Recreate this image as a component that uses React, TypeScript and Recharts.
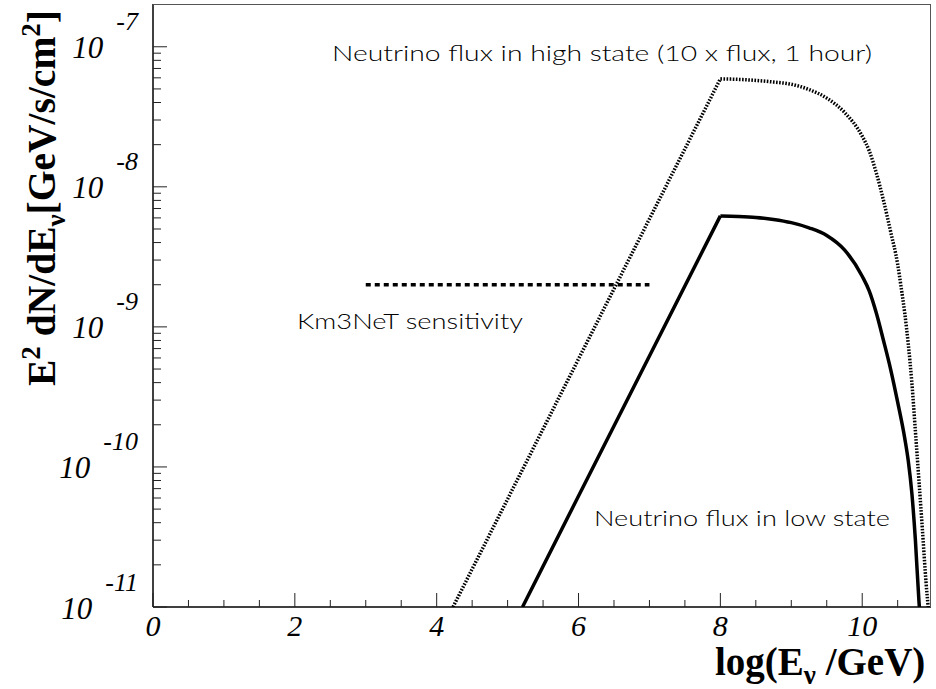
import React from 'react';
import { LineChart, Line, XAxis, YAxis } from 'recharts';

// ---- data ----
// low state: rising power law, then plateau with cutoff
const lowRiseX = [5.21, 6, 7, 8];
const lowRiseFlux = [1.0e-11, 6.2e-11, 6.2e-10, 6.2e-9];
const lowCutoffX = [8, 8.25, 8.5, 8.75, 9, 9.25, 9.5, 9.75, 10, 10.1, 10.2, 10.3, 10.4, 10.5, 10.6, 10.65, 10.7, 10.75, 10.8, 10.82];
const lowCutoffFlux = [6.2e-9, 6.15e-9, 6.05e-9, 5.85e-9, 5.55e-9, 5.1e-9, 4.5e-9, 3.55e-9, 2.3e-9, 1.8e-9, 1.25e-9, 8.0e-10, 5.0e-10, 2.9e-10, 1.6e-10, 1.1e-10, 6.5e-11, 3.0e-11, 1.1e-11, 8.0e-12];

// high state (10 x flux)
const highRiseX = [4.23, 5, 6, 7, 8];
const highRiseFlux = [1.0e-11, 5.9e-11, 5.9e-10, 5.9e-9, 5.9e-8];
const highCutoffX = [8, 8.25, 8.5, 8.75, 9, 9.25, 9.5, 9.75, 10, 10.1, 10.2, 10.3, 10.4, 10.5, 10.55, 10.6, 10.65, 10.7, 10.75, 10.8, 10.85, 10.9, 10.93, 10.95];
const highCutoffFlux = [5.9e-8, 5.85e-8, 5.75e-8, 5.6e-8, 5.4e-8, 4.95e-8, 4.3e-8, 3.4e-8, 2.3e-8, 1.8e-8, 1.25e-8, 8.0e-9, 4.8e-9, 2.8e-9, 1.9e-9, 1.25e-9, 7.5e-10, 4.0e-10, 1.8e-10, 8.0e-11, 3.5e-11, 1.5e-11, 1.0e-11, 7.5e-12];

const km3netX = [3, 7];
const km3netFlux = [2.0e-9, 2.0e-9];

const xTicks = [0, 0.5, 1, 1.5, 2, 2.5, 3, 3.5, 4, 4.5, 5, 5.5, 6, 6.5, 7, 7.5, 8, 8.5, 9, 9.5, 10, 10.5];
const xMajorTicks = [0, 2, 4, 6, 8, 10];
const xTickLabels = ['0', '2', '4', '6', '8', '10'];
const yDecades = [1e-11, 1e-10, 1e-9, 1e-8, 1e-7];
const yExponentLabels = ['-11', '-10', '-9', '-8', '-7'];
const yMinorMultipliers = [2, 3, 4, 5, 6, 7, 8, 9];

const toPoints = (xs: number[], ys: number[]) => xs.map((x, i) => ({ x, y: ys[i] }));
const lowRise = toPoints(lowRiseX, lowRiseFlux);
const lowCut = toPoints(lowCutoffX, lowCutoffFlux);
const highRise = toPoints(highRiseX, highRiseFlux);
const highCut = toPoints(highCutoffX, highCutoffFlux);
const km3Data = toPoints(km3netX, km3netFlux);

const yTicks: number[] = [];
yDecades.forEach((d, i) => {
  yTicks.push(d);
  if (i < yDecades.length - 1) yMinorMultipliers.forEach((m) => yTicks.push(m * d));
});

const W = 936;
const H = 689;
const serif = '"Liberation Serif", "Times New Roman", serif';
const sans = 'Lato, "DejaVu Sans", sans-serif';

const YTick = (props: any) => {
  const { x, y, payload } = props;
  const v = payload.value;
  const idx = yDecades.findIndex((d) => Math.abs(d - v) / d < 1e-6);
  if (idx < 0) {
    return <line x1={x} x2={x + 8} y1={y} y2={y} stroke="#222" strokeWidth={1} />;
  }
  return (
    <g>
      <line x1={x} x2={x + 14} y1={y} y2={y} stroke="#222" strokeWidth={1} />
      <text x={x - 15} y={y + 11.5} textAnchor="end" fontFamily={serif} fontStyle="italic" fontSize={31} fill="#000">
        10
        <tspan dx={13} dy={-28} fontSize={26}>{yExponentLabels[idx]}</tspan>
      </text>
    </g>
  );
};

const XTick = (props: any) => {
  const { x, y, payload } = props;
  const v = payload.value;
  const idx = xMajorTicks.indexOf(v);
  if (idx < 0) {
    return <line x1={x} x2={x} y1={y} y2={y - 7} stroke="#222" strokeWidth={1} />;
  }
  return (
    <g>
      <line x1={x} x2={x} y1={y} y2={y - 14} stroke="#222" strokeWidth={1} />
      <text x={x} y={y + 29} textAnchor="middle" fontFamily={serif} fontStyle="italic" fontSize={30} fill="#000">
        {xTickLabels[idx]}
      </text>
    </g>
  );
};

const common = { dataKey: 'y', stroke: '#000', dot: false, isAnimationActive: false } as const;

export default function App() {
  return (
    <div style={{ position: 'absolute', left: 0, top: 0, width: W, height: H, background: '#fff' }}>
      <LineChart width={W} height={H} margin={{ top: 4, right: 5, left: 0, bottom: 0 }}>
        <XAxis
          dataKey="x"
          type="number"
          domain={[0, 10.97]}
          allowDataOverflow
          ticks={xTicks}
          interval={0}
          height={82}
          tickSize={0}
          tickMargin={0}
          tickLine={false}
          axisLine={{ stroke: '#000', strokeWidth: 1.5 }}
          tick={<XTick />}
        />
        <YAxis
          dataKey="y"
          type="number"
          scale="log"
          domain={[1e-11, 2.02e-7]}
          allowDataOverflow
          ticks={yTicks}
          interval={0}
          width={153}
          tickSize={0}
          tickMargin={0}
          tickLine={false}
          axisLine={{ stroke: '#000', strokeWidth: 1.5 }}
          tick={<YTick />}
        />
        <Line {...common} data={km3Data} type="linear" strokeWidth={3.5} strokeDasharray="5 4" />
        <Line {...common} data={highRise} type="linear" strokeWidth={3.5} strokeDasharray="1.6 1.5" />
        <Line {...common} data={highCut} type="monotone" strokeWidth={3.5} strokeDasharray="1.6 1.5" />
        <Line {...common} data={lowRise} type="linear" strokeWidth={3.5} />
        <Line {...common} data={lowCut} type="monotone" strokeWidth={3.5} />
      </LineChart>
      <svg width={W} height={H} style={{ position: 'absolute', left: 0, top: 0, pointerEvents: 'none' }}>
        <line x1={153} x2={931} y1={4.5} y2={4.5} stroke="#555" strokeWidth={1} />
        <line x1={930.5} x2={930.5} y1={4} y2={607} stroke="#555" strokeWidth={1} />
        <text x={332} y={61} fontFamily={sans} fontWeight={300} fontSize={22} textLength={540} lengthAdjust="spacingAndGlyphs" fill="#000">
          Neutrino flux in high state (10 x flux, 1 hour)
        </text>
        <text x={297} y={329} fontFamily={sans} fontWeight={300} fontSize={22} textLength={226} lengthAdjust="spacingAndGlyphs" fill="#000">
          Km3NeT sensitivity
        </text>
        <text x={594} y={526} fontFamily={sans} fontWeight={300} fontSize={22} textLength={296} lengthAdjust="spacingAndGlyphs" fill="#000">
          Neutrino flux in low state
        </text>
        <text x={715} y={675} fontFamily={serif} fontWeight="bold" fontSize={39} fill="#000">
          log(E
          <tspan dy={9} fontSize={27}>ν</tspan>
          <tspan dy={-9}> /GeV)</tspan>
        </text>
        <text x={55} y={386} transform="rotate(-90, 55, 386)" fontFamily={serif} fontWeight="bold" fontSize={39.5} fill="#000">
          E
          <tspan dy={-15} fontSize={27}>2</tspan>
          <tspan dy={15}> dN/dE</tspan>
          <tspan dy={10} fontSize={27}>ν</tspan>
          <tspan dy={-10}>[GeV/s/cm</tspan>
          <tspan dy={-15} fontSize={27}>2</tspan>
          <tspan dy={15}>]</tspan>
        </text>
      </svg>
    </div>
  );
}
